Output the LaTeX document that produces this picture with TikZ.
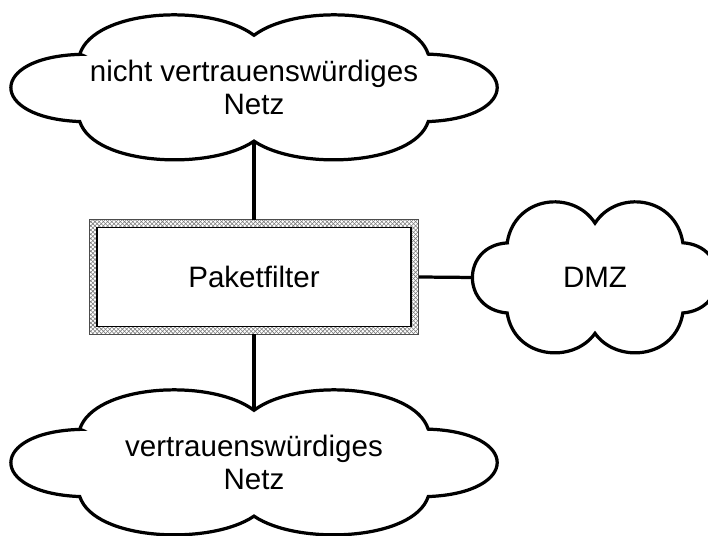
\documentclass[tikz,border=0pt]{standalone}
\usepackage{fontspec}
\setmainfont{Liberation Sans}
\usetikzlibrary{patterns}
\definecolor{hatchgray}{RGB}{125,125,125}
\newcommand{\tikzcloud}[5]{
    \begin{scope}[shift={(#2,#3)}, xscale=#4, yscale=#5]
        \draw[line width=2.3pt] (-0.72,0.46)
            .. controls (-0.66,1.08) and (-0.18,1.17) .. (0,0.72)
            .. controls (0.18,1.17) and (0.66,1.08) .. (0.72,0.46)
            .. controls (1.1,0.42) and (1.1,-0.42) .. (0.72,-0.47)
            .. controls (0.66,-1.08) and (0.18,-1.15) .. (0,-0.74)
            .. controls (-0.18,-1.15) and (-0.66,-1.08) .. (-0.72,-0.47)
            .. controls (-1.1,-0.42) and (-1.1,0.42) .. cycle;
        \coordinate (#1-n) at (0,0.72);
        \coordinate (#1-s) at (0,-0.74);
        \coordinate (#1-w) at (-1,0);
    \end{scope}
}
\newcommand{\drawlink}{\draw[line width=2.3pt]}

\begin{document}
\begin{tikzpicture}[x=0.025cm, y=0.025cm,
    label/.style={align=center, inner sep=0pt, font=\fontsize{21}{23}\selectfont},
    filterbox/.style={label, minimum width=8.225cm, minimum height=2.85cm}]
    \clip (0,0) rectangle (708,536);

    % Draw clouds
    \tikzcloud{untrusted}{254}{448.5}{242}{72.5}
    \tikzcloud{trusted}{254}{73.5}{242}{72.5}
    \tikzcloud{dmz}{595}{258.5}{122}{75.5}

    \node[label] (untrusted) at (254,448.5) {nicht vertrauenswürdiges\\Netz};
    \node[label] (trusted) at (254,73.5) {vertrauenswürdiges\\Netz};
    \node[label] (dmz) at (595,258.5) {DMZ};

    % Draw filter
    \node[filterbox] (filter) at (254,259) {Paketfilter};
    \fill[pattern=crosshatch, pattern color=hatchgray, even odd rule]
        (filter.south west) rectangle (filter.north east)
        ([shift={(8,8)}]filter.south west) rectangle ([shift={(-8,-8)}]filter.north east);
    \draw[black!70, line width=0.7pt] (filter.south west) rectangle (filter.north east);
    \draw[line width=1pt] ([shift={(8,8)}]filter.south west) rectangle ([shift={(-8,-8)}]filter.north east);

    % Draw links
    \drawlink (untrusted-s) -- (filter.north);
    \drawlink (filter.south) -- (trusted-n);
    \drawlink (filter.east) -- (dmz-w);
\end{tikzpicture}
\end{document}
